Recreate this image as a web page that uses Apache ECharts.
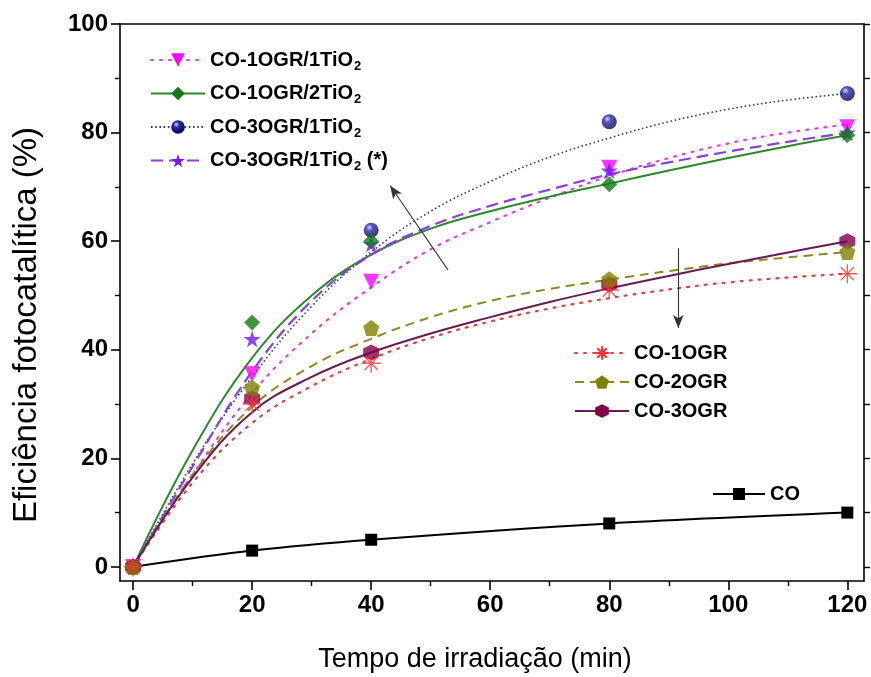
<!DOCTYPE html>
<html>
<head>
<meta charset="utf-8">
<script src="https://cdn.jsdelivr.net/npm/echarts@6/dist/echarts.min.js"></script>
<style>
  html, body { margin: 0; padding: 0; background: #fff; }
  #chart { width: 871px; height: 677px; }
</style>
</head>
<body>
<div id="chart"></div>
<script>
// Measured points (irradiation time in min, efficiency in %)
const timeMin = [0, 20, 40, 80, 120];
const co = [0, 3, 5, 8, 10];
const co1ogr = [0, 30, 37.5, 51, 54];
const co2ogr = [0, 33, 44, 53, 58];
const co3ogr = [0, 31, 39.5, 52, 60];
const co1ogr1tio2 = [0, 35.5, 52.5, 73.5, 81];
const co1ogr2tio2 = [0, 45, 60, 70.5, 79.5];
const co3ogr1tio2 = [0, null, 62, 82, 87.2];
const co3ogr1tio2b = [0, 42, 59.5, 73, 80];

// Fitted kinetic curves, sampled every 10 min
const fitTime = [0, 10, 20, 30, 40, 50, 60, 70, 80, 90, 100, 110, 120];
const fit1ogr = [0, 15.5, 26.5, 33.3, 38.3, 42.2, 45.2, 47.6, 49.5, 51.1, 52.4, 53.3, 54];
const fit2ogr = [0, 17, 29.5, 37, 42, 46, 49, 51.2, 52.9, 54.5, 55.9, 57, 58];
const fit3ogr = [0, 16.5, 28.5, 35, 39.5, 43, 46, 48.8, 51.3, 53.6, 55.8, 57.9, 60];
const fit1ogr1tio2 = [0, 17, 32, 43, 51.5, 58.5, 63.5, 68, 72, 75.3, 78, 80, 81.5];
const fit1ogr2tio2 = [0, 21.5, 38.5, 50, 57.5, 62.3, 65.5, 68.2, 70.6, 73, 75.3, 77.5, 79.5];
const fit3ogr1tio2 = [0, 19, 35, 48, 58, 65.5, 71, 75.5, 79, 82, 84.3, 86, 87.2];
const fit3ogr1tio2b = [0, 18.5, 36, 49, 57.5, 62.8, 66.5, 69.5, 72.3, 74.5, 76.5, 78.3, 80];

// Axis ticks
const xMajor = [0, 20, 40, 60, 80, 100, 120];
const xMinor = [10, 30, 50, 70, 90, 110];
const yMajor = [0, 20, 40, 60, 80, 100];
const yMinor = [10, 30, 50, 70, 90];
const yRight = [0, 10, 20, 30, 40, 50, 60, 70, 80, 90, 100];

// Trend arrows [fromX, fromY, toX, toY]
const arrowUp = [52.9, 54.7, 43.2, 70.2];
const arrowDown = [91.6, 58.7, 91.6, 44.0];

const pairs = (xs, ys) => xs.map((x, i) => [x, ys[i]]).filter(p => p[1] !== null);

const STAR = 'path://M50,0 L61,35 L98,35 L68,57 L79,91 L50,70 L21,91 L32,57 L2,35 L39,35 Z';
const PENTAGON = 'path://M50,0 L98,36 L80,95 L20,95 L2,36 Z';
const HEXAGON = 'path://M50,0 L93,25 L93,75 L50,100 L7,75 L7,25 Z';
const ASTERISK = 'path://M0,50 L100,50 M50,0 L50,100 M15,15 L85,85 M85,15 L15,85';
const SPHERE = {
  type: 'radial', x: 0.38, y: 0.32, r: 0.75,
  colorStops: [
    { offset: 0, color: '#c8ccff' },
    { offset: 0.3, color: '#2a2aa8' },
    { offset: 1, color: '#00004a' }
  ]
};

const materials = [
  { name: 'CO-1OGR/1TiO2', fit: fit1ogr1tio2, pts: co1ogr1tio2, symbol: 'triangle', rotate: 180, size: 16,
    color: '#ff00ff', line: { color: '#e040e0', width: 2.2, type: [2, 7], cap: 'round' } },
  { name: 'CO-1OGR/2TiO2', fit: fit1ogr2tio2, pts: co1ogr2tio2, symbol: 'diamond', rotate: 0, size: 16,
    color: '#0f7a12', line: { color: '#2a8a2a', width: 2 } },
  { name: 'CO-3OGR/1TiO2', fit: fit3ogr1tio2, pts: co3ogr1tio2, symbol: 'circle', rotate: 0, size: 15,
    color: SPHERE, line: { color: '#3a3a7a', width: 1.6, type: [1.6, 2.6] } },
  { name: 'CO-3OGR/1TiO2 (*)', fit: fit3ogr1tio2b, pts: co3ogr1tio2b, symbol: STAR, rotate: 0, size: 17,
    color: '#7a10ff', line: { color: '#8a3fe0', width: 2.2, type: [12, 6] } },
  { name: 'CO-1OGR', fit: fit1ogr, pts: co1ogr, symbol: ASTERISK, rotate: 0, size: 19,
    color: '#ff3030', border: 1.4, line: { color: '#e04040', width: 2.2, type: [2, 7], cap: 'round' } },
  { name: 'CO-2OGR', fit: fit2ogr, pts: co2ogr, symbol: PENTAGON, rotate: 0, size: 16,
    color: '#808000', line: { color: '#8a8a20', width: 2, type: [9, 6] } },
  { name: 'CO-3OGR', fit: fit3ogr, pts: co3ogr, symbol: HEXAGON, rotate: 0, size: 16,
    color: '#82004a', line: { color: '#6a1a52', width: 2 } }
];

const series = [];
materials.forEach(m => {
  const itemStyle = { color: m.color };
  if (m.border) { itemStyle.borderColor = m.color; itemStyle.borderWidth = m.border; }
  series.push({
    name: m.name, type: 'line', smooth: 0.4,
    data: pairs(fitTime, m.fit),
    showSymbol: false, symbol: m.symbol, symbolRotate: m.rotate, symbolSize: m.size,
    itemStyle: itemStyle, lineStyle: m.line, z: 2
  });
});
// Pure CO reference, drawn through its own points
series.push({
  name: 'CO', type: 'line', smooth: 0.3,
  data: pairs(timeMin, co),
  symbol: 'rect', symbolSize: 12,
  itemStyle: { color: '#000' }, lineStyle: { color: '#000', width: 2 }, z: 3
});
// Measured points on top of the curves
[2, 0, 3, 1, 6, 5, 4].forEach(i => {
  const m = materials[i];
  const itemStyle = { color: m.color };
  if (m.border) { itemStyle.borderColor = m.color; itemStyle.borderWidth = m.border; }
  series.push({
    name: m.name + ' pontos', type: 'scatter',
    data: pairs(timeMin, m.pts),
    symbol: m.symbol, symbolRotate: m.rotate, symbolSize: m.size,
    itemStyle: itemStyle, z: 4
  });
});
// Trend arrows
series.push({
  name: 'setas', type: 'line', data: [], silent: true,
  markLine: {
    silent: true, animation: false,
    symbolSize: [8, 13],
    label: { show: false },
    lineStyle: { color: '#333', width: 1.1, type: 'solid' },
    data: [
      [{ coord: [arrowUp[0], arrowUp[1]], symbol: 'none' }, { coord: [arrowUp[2], arrowUp[3]], symbol: 'arrow' }],
      [{ coord: [arrowDown[0], arrowDown[1]], symbol: 'none' }, { coord: [arrowDown[2], arrowDown[3]], symbol: 'arrow' }]
    ]
  }
});

const FONT = '"Liberation Sans", Arial, sans-serif';
const tickFont = { fontFamily: FONT, fontWeight: 'bold', fontSize: 24, color: '#000' };
const legendText = {
  fontFamily: FONT, fontWeight: 'bold', fontSize: 20, color: '#000',
  rich: { sub: { fontFamily: FONT, fontWeight: 'bold', fontSize: 13, color: '#000', padding: [12, 0, 0, 1] } }
};
const subFormatter = name => name.replace('TiO2', 'TiO{sub|2}');
const axisLine = { show: true, onZero: false, lineStyle: { color: '#000', width: 1.6 } };
const hiddenLine = { show: false, onZero: false };
const xRange = { type: 'value', min: -2.2, max: 122.8 };
const yRange = { type: 'value', min: -2.6, max: 100 };

const option = {
  animation: false,
  backgroundColor: '#fff',
  grid: { left: 120, right: 7, top: 24, bottom: 96 },
  xAxis: [
    Object.assign({}, xRange, {
      position: 'bottom', axisLine: axisLine, splitLine: { show: false },
      axisTick: { show: true, customValues: xMajor, length: 9, lineStyle: { color: '#000', width: 1.6 } },
      axisLabel: Object.assign({ customValues: xMajor, margin: 12 }, tickFont)
    }),
    Object.assign({}, xRange, {
      position: 'bottom', axisLine: hiddenLine, splitLine: { show: false },
      axisTick: { show: true, customValues: xMinor, length: 5, lineStyle: { color: '#000', width: 1.4 } },
      axisLabel: { show: false }
    }),
    Object.assign({}, xRange, {
      position: 'top', axisLine: axisLine, splitLine: { show: false },
      axisTick: { show: false }, axisLabel: { show: false }
    })
  ],
  yAxis: [
    Object.assign({}, yRange, {
      position: 'left', axisLine: axisLine, splitLine: { show: false },
      axisTick: { show: true, customValues: yMajor, length: 9, lineStyle: { color: '#000', width: 1.6 } },
      axisLabel: Object.assign({ customValues: yMajor, margin: 12 }, tickFont)
    }),
    Object.assign({}, yRange, {
      position: 'left', axisLine: hiddenLine, splitLine: { show: false },
      axisTick: { show: true, customValues: yMinor, length: 5, lineStyle: { color: '#000', width: 1.4 } },
      axisLabel: { show: false }
    }),
    Object.assign({}, yRange, {
      position: 'right', axisLine: axisLine, splitLine: { show: false },
      axisTick: { show: true, customValues: yRight, length: 6, lineStyle: { color: '#000', width: 1.4 } },
      axisLabel: { show: false }
    })
  ],
  legend: [
    {
      data: materials.slice(0, 4).map(m => m.name),
      orient: 'vertical', left: 150, top: 50, padding: 0,
      itemWidth: 54, itemHeight: 17, itemGap: 11,
      formatter: subFormatter, textStyle: legendText
    },
    {
      data: materials.slice(4).map(m => m.name),
      orient: 'vertical', left: 574, top: 343, padding: 0,
      itemWidth: 54, itemHeight: 17, itemGap: 9,
      formatter: subFormatter, textStyle: legendText
    },
    {
      data: ['CO'],
      orient: 'vertical', left: 712, top: 484, padding: 0,
      itemWidth: 52, itemHeight: 15,
      textStyle: legendText
    }
  ],
  graphic: [
    {
      type: 'text', x: 27, y: 325, rotation: Math.PI / 2,
      style: { text: 'Eficiência fotocatalítica (%)', font: '33px ' + FONT, fill: '#000',
               textAlign: 'center', textVerticalAlign: 'middle' }
    },
    {
      type: 'text', x: 475, y: 660,
      style: { text: 'Tempo de irradiação (min)', font: '27px ' + FONT, fill: '#000',
               textAlign: 'center', textVerticalAlign: 'middle' }
    }
  ],
  series: series
};

const chart = echarts.init(document.getElementById('chart'), null, { renderer: 'canvas' });
chart.setOption(option);
</script>
</body>
</html>
